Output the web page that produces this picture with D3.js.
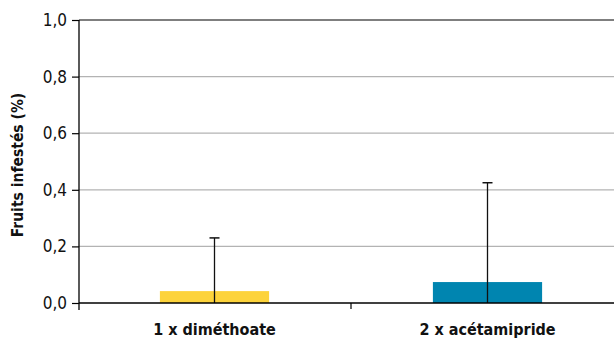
<!DOCTYPE html>
<html><head><meta charset="utf-8">
<script src="https://cdn.jsdelivr.net/npm/d3@7"></script>
<style>body{margin:0;background:#fff}svg{display:block}</style>
</head><body>
<svg id="c" width="614" height="338"></svg>
<script>
const categories = ["1 x diméthoate", "2 x acétamipride"];
const values = [0.042, 0.074];
const errorTops = [0.23, 0.425];
const barColors = ["#FDD33B", "#0085B0"];
const yTicks = [0, 0.2, 0.4, 0.6, 0.8, 1.0];
const yTitle = "Fruits infestés (%)";

const svg = d3.select("#c");
const font = "'DejaVu Sans Condensed','DejaVu Sans',sans-serif";
const y = d3.scaleLinear().domain([0, 1]).range([303, 20]);
const x = d3.scaleBand().domain(categories).range([78, 624]).paddingInner(0).paddingOuter(0);
const bw = x.bandwidth() * 0.4;

svg.append("g").selectAll("line").data(yTicks.filter(d => d > 0 && d < 1)).join("line")
  .attr("x1", 79).attr("x2", 614).attr("y1", d => y(d)).attr("y2", d => y(d))
  .attr("stroke", "#b3b3b3").attr("stroke-width", 1.2);
svg.append("line").attr("x1", 79).attr("x2", 614).attr("y1", y(1)).attr("y2", y(1))
  .attr("stroke", "#000").attr("stroke-width", 1.2);

svg.append("g").selectAll("rect").data(categories).join("rect")
  .attr("x", d => x(d) + (x.bandwidth() - bw) / 2)
  .attr("width", bw)
  .attr("y", (d, i) => y(values[i]))
  .attr("height", (d, i) => y(0) - y(values[i]))
  .attr("fill", (d, i) => barColors[i]);

const eg = svg.append("g");
categories.forEach((c, i) => {
  const cx = x(c) + x.bandwidth() / 2;
  eg.append("line").attr("x1", cx).attr("x2", cx).attr("y1", y(0)).attr("y2", y(errorTops[i]))
    .attr("stroke", "#111").attr("stroke-width", 1.3);
  eg.append("line").attr("x1", cx - 5).attr("x2", cx + 5).attr("y1", y(errorTops[i])).attr("y2", y(errorTops[i]))
    .attr("stroke", "#111").attr("stroke-width", 1.5);
});

const ya = svg.append("g").attr("transform", "translate(79,0)")
  .call(d3.axisLeft(y).tickValues(yTicks).tickFormat(d => d3.format(".1f")(d).replace(".", ",")).tickSize(7).tickPadding(5));
ya.select(".domain").attr("d", `M0,${y(1)}V${y(0) + 7}`).attr("stroke", "#000").attr("stroke-width", 1.3);
ya.selectAll(".tick line").attr("stroke", "#000").attr("stroke-width", 1.2);
ya.selectAll("text").attr("font-family", font).attr("font-size", 17).attr("fill", "#111");

const xa = svg.append("g").attr("transform", `translate(0,${y(0)})`);
xa.append("line").attr("x1", 79).attr("x2", 614).attr("y1", 0).attr("y2", 0).attr("stroke", "#000").attr("stroke-width", 1.3);
xa.selectAll(".tk").data(categories.slice(1)).join("line").attr("class", "tk")
  .attr("x1", d => x(d)).attr("x2", d => x(d)).attr("y1", 0).attr("y2", 6)
  .attr("stroke", "#000").attr("stroke-width", 1.2);
xa.selectAll("text").data(categories).join("text")
  .attr("x", d => x(d) + x.bandwidth() / 2).attr("y", 31.5)
  .attr("text-anchor", "middle").attr("font-family", font).attr("font-weight", "bold")
  .attr("font-size", 16).attr("fill", "#111").text(d => d);

svg.append("text").attr("transform", "translate(23,165) rotate(-90)")
  .attr("text-anchor", "middle").attr("font-family", font).attr("font-weight", "bold")
  .attr("font-size", 15.5).attr("fill", "#111").text(yTitle);
</script>
</body></html>
